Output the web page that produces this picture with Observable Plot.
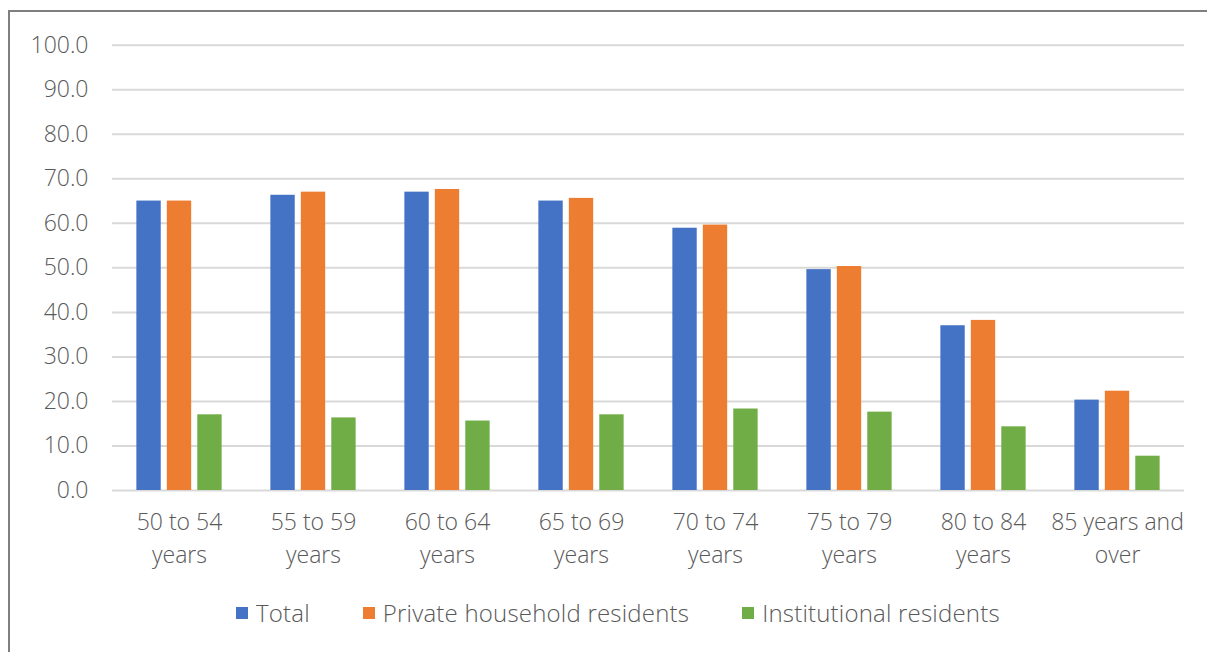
<!DOCTYPE html>
<html>
<head>
<meta charset="utf-8">
<script src="https://cdn.jsdelivr.net/npm/d3@7"></script>
<script src="https://cdn.jsdelivr.net/npm/@observablehq/plot@0.6"></script>
<style>
  html, body { margin: 0; padding: 0; background: #fff; }
  #wrap { position: relative; width: 1207px; height: 652px; overflow: hidden; font-family: "Open Sans", sans-serif; }
  #frame { position: absolute; left: 8px; top: 10px; right: -4px; bottom: -4px; border-left: 2px solid #7f7f7f; border-top: 2px solid #7f7f7f; }
  #chart { position: absolute; left: 0; top: 0; }
  #legend { position: absolute; left: 236px; top: 596px; display: flex; align-items: center; font-size: 24px; font-weight: 300; color: #595959; white-space: nowrap; letter-spacing: 0.2px; }
  #legend .item { display: flex; align-items: center; margin-right: 53px; }
  #legend .sw { width: 12px; height: 12px; margin-right: 8px; }
</style>
</head>
<body>
<div id="wrap">
  <div id="frame"></div>
  <div id="chart"></div>
  <div id="legend"></div>
</div>
<script>
const categories = ["50 to 54 years", "55 to 59 years", "60 to 64 years", "65 to 69 years", "70 to 74 years", "75 to 79 years", "80 to 84 years", "85 years and over"];
const tickLabels = ["50 to 54\nyears", "55 to 59\nyears", "60 to 64\nyears", "65 to 69\nyears", "70 to 74\nyears", "75 to 79\nyears", "80 to 84\nyears", "85 years and\nover"];
const series = ["Total", "Private household residents", "Institutional residents"];
const total = [65.0, 66.3, 67.0, 65.0, 58.9, 49.6, 37.0, 20.3];
const privateHousehold = [65.0, 67.0, 67.6, 65.6, 59.6, 50.3, 38.2, 22.3];
const institutional = [17.0, 16.3, 15.6, 17.0, 18.3, 17.6, 14.3, 7.7];
const yTicks = [0, 10, 20, 30, 40, 50, 60, 70, 80, 90, 100];
const colors = ["#4472C4", "#ED7D31", "#70AD47"];

const seriesValues = [total, privateHousehold, institutional];
const data = [];
categories.forEach((c, i) => {
  series.forEach((s, j) => data.push({category: c, series: s, value: seriesValues[j][i]}));
});
const labelOf = new Map(categories.map((c, i) => [c, tickLabels[i]]));

const chart = Plot.plot({
  width: 1207,
  height: 580,
  marginLeft: 108,
  marginRight: 20,
  marginTop: 44.7,
  marginBottom: 90,
  style: {fontFamily: "'Open Sans', sans-serif", fontWeight: 300, color: "#595959", background: "transparent"},
  fx: {domain: categories, paddingInner: 0, paddingOuter: 0, label: null, axis: null},
  x: {domain: series, paddingInner: 0.2, paddingOuter: 0.8, round: false, axis: null},
  y: {domain: [0, 100], axis: null},
  color: {domain: series, range: colors},
  marks: [
    Plot.ruleY(yTicks, {stroke: "#d9d9d9", strokeWidth: 2}),
    Plot.barY(data, {fx: "category", x: "series", y: "value", fill: "series"}),
    Plot.axisY({ticks: yTicks, tickSize: 0, tickPadding: 24, tickFormat: d => d.toFixed(1), fontSize: 23, fill: "#595959", label: null}),
    Plot.axisFx({anchor: "bottom", tickSize: 0, tickPadding: 16, tickFormat: d => labelOf.get(d), fontSize: 23, fill: "#595959", lineHeight: 1.43, label: null})
  ]
});
document.getElementById("chart").appendChild(chart);

const legend = document.getElementById("legend");
series.forEach((s, i) => {
  const item = document.createElement("div");
  item.className = "item";
  const sw = document.createElement("div");
  sw.className = "sw";
  sw.style.background = colors[i];
  const t = document.createElement("span");
  t.textContent = s;
  item.appendChild(sw);
  item.appendChild(t);
  legend.appendChild(item);
});
</script>
</body>
</html>
